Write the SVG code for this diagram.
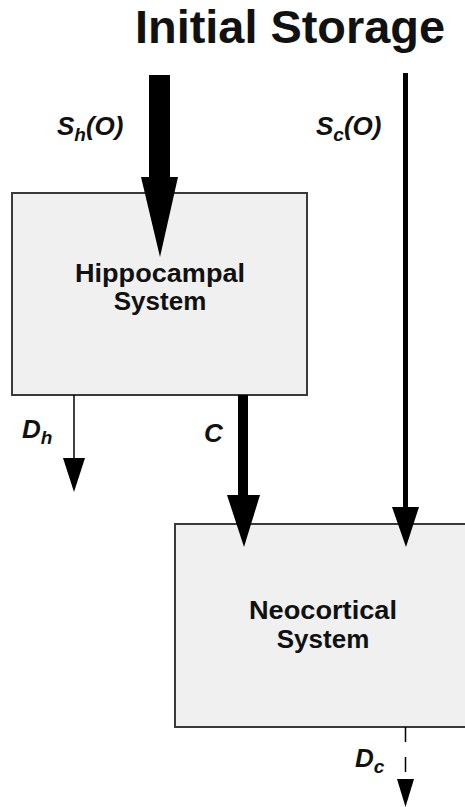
<svg xmlns="http://www.w3.org/2000/svg" width="465" height="807" viewBox="0 0 465 807">
<style>
.box{fill:#f0f0f0;stroke:#3a3a3a;stroke-width:2}
.lbl{font-family:"Liberation Sans",Arial,sans-serif;font-weight:bold;font-size:26px;fill:#111;text-anchor:middle}
.var{font-family:"Liberation Sans",Arial,sans-serif;font-weight:bold;font-style:italic;font-size:26px;fill:#111}
.sub{font-size:19px}
.head{fill:#000}
</style>
<rect width="465" height="807" fill="#fff"/>
<text id="title" x="135" y="43" font-family="'Liberation Sans',Arial,sans-serif" font-weight="bold" font-size="46" textLength="310" lengthAdjust="spacingAndGlyphs" fill="#111">Initial Storage</text>
<g id="hippocampal">
<rect class="box" x="12" y="193" width="295" height="202"/>
<text class="lbl" x="160" y="282" textLength="170" lengthAdjust="spacingAndGlyphs">Hippocampal</text>
<text class="lbl" x="160" y="310">System</text>
</g>
<g id="neocortical">
<rect class="box" x="175" y="524" width="296" height="203"/>
<text class="lbl" x="323" y="619" textLength="148" lengthAdjust="spacingAndGlyphs">Neocortical</text>
<text class="lbl" x="323" y="648">System</text>
</g>
<g id="connectors">
<rect x="149" y="75" width="21" height="103"/>
<polygon class="head" points="141,177 178,177 160,257"/>
<rect x="403" y="73" width="5" height="435"/>
<polygon class="head" points="392,507 419,507 406,547"/>
<rect x="238" y="395" width="10" height="101"/>
<polygon class="head" points="227,495 260,495 244,547"/>
<line x1="74" y1="395" x2="74" y2="459" stroke="#000" stroke-width="1.5"/>
<polygon class="head" points="63,458 85,458 74,492"/>
<line x1="405.5" y1="727" x2="405.5" y2="780" stroke="#000" stroke-width="1.5" stroke-dasharray="15,15"/>
<polygon class="head" points="397,779 414,779 405.5,807"/>
</g>
<g id="labels">
<text class="var" x="57" y="135">S<tspan class="sub" dy="6">h</tspan><tspan dy="-6">(O)</tspan></text>
<text class="var" x="316" y="135">S<tspan class="sub" dy="6">c</tspan><tspan dy="-6">(O)</tspan></text>
<text class="var" x="22" y="438">D<tspan class="sub" dy="6">h</tspan></text>
<text class="var" x="204" y="442">C</text>
<text class="var" x="355" y="767">D<tspan class="sub" dy="6">c</tspan></text>
</g>
</svg>
